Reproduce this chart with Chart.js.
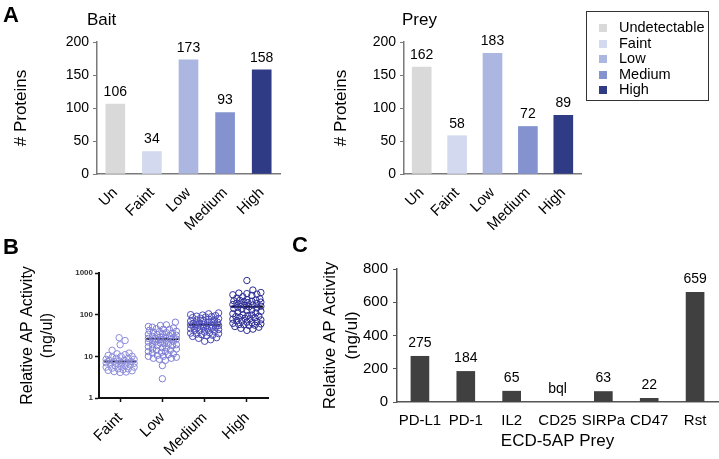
<!DOCTYPE html>
<html>
<head>
<meta charset="utf-8">
<script src="https://cdn.jsdelivr.net/npm/chart.js@4.4.1/dist/chart.umd.min.js"></script>
<style>
  body { margin: 0; width: 719px; height: 459px; position: relative; background: #fff; overflow: hidden;
         font-family: "Liberation Sans", Arial, sans-serif; }
  canvas { position: absolute; left: 0; top: 0; }
  .txt { position: absolute; white-space: nowrap; color: #000; line-height: 1; }
  .panel { font-weight: bold; font-size: 22px; }
  #legend { position: absolute; left: 586px; top: 11px; width: 121px; height: 88px; border: 1.5px solid #333;
            box-sizing: content-box; }
  .item { position: absolute; left: 12px; font-size: 14.5px; line-height: 1; }
  .item span { display: inline-block; width: 8px; height: 8px; margin-right: 12px; }
</style>
</head>
<body>
<canvas id="bait" width="719" height="459"></canvas>
<canvas id="prey" width="719" height="459"></canvas>
<canvas id="swarm" width="719" height="459"></canvas>
<canvas id="ecd" width="719" height="459"></canvas>

<div class="txt panel" style="left:3px;top:4px">A</div>
<div class="txt panel" style="left:3px;top:236px">B</div>
<div class="txt panel" style="left:292px;top:234px">C</div>
<div class="txt" style="left:87px;top:11px;font-size:17px">Bait</div>
<div class="txt" style="left:402px;top:11px;font-size:17px">Prey</div>
<div id="legend"></div>

<script>
// panel A
const levels = ["Un", "Faint", "Low", "Medium", "High"];
const legendNames = ["Undetectable", "Faint", "Low", "Medium", "High"];
const baitCounts = [106, 34, 173, 93, 158];
const preyCounts = [162, 58, 183, 72, 89];
const countTicks = [0, 50, 100, 150, 200];

// panel B (ng/ul)
const swarmGroups = ["Faint", "Low", "Medium", "High"];
const faintActivity = [28, 24, 19, 14, 12, 11.5, 11, 10.5, 10, 10, 9.5, 9, 9, 8.5, 8.5, 8, 8, 7.8, 7.5, 7.5,
  7.2, 7, 7, 6.8, 6.5, 6.5, 6.2, 6, 6, 5.8, 5.5, 5.5, 5.2, 5, 5, 4.8, 4.6, 4.5, 4.3, 4.2, 4.1];
const lowActivity = [66, 57, 55, 52, 50, 48, 46, 45, 44, 42, 40, 39, 38, 37, 36, 35, 34, 33, 32, 31, 30, 29, 29,
  28, 27, 27, 26, 26, 25, 25, 24, 24, 23, 22, 22, 21, 20, 20, 19, 19, 18, 18, 17, 16, 16, 15, 15, 14, 14, 13,
  13, 12.5, 12, 11.5, 11, 10.5, 10, 10, 9.5, 9, 9, 8.5, 8, 6, 2.9];
const mediumActivity = [110, 105, 100, 98, 95, 92, 90, 88, 85, 82, 80, 78, 76, 75, 73, 70, 68, 66, 65, 63, 62,
  60, 59, 58, 57, 56, 55, 54, 53, 52, 50, 49, 48, 47, 46, 45, 44, 42, 41, 40, 38, 37, 36, 35, 34, 33, 32, 31,
  30, 28, 27, 25, 23];
const highActivity = [660, 390, 340, 330, 320, 310, 300, 290, 270, 250, 240, 230, 225, 220, 215, 210, 205, 200,
  195, 190, 185, 180, 175, 170, 165, 160, 155, 150, 145, 140, 135, 130, 125, 120, 115, 110, 105, 100, 98, 95,
  92, 90, 87, 85, 82, 80, 78, 75, 72, 70, 68, 66, 64, 62, 60, 58, 57, 56, 55, 52, 50, 47, 45, 42];
const groupMedians = [7.5, 26, 57, 155];
const logTicks = [1, 10, 100, 1000];

// panel C
const preyNames = ["PD-L1", "PD-1", "IL2", "CD25", "SIRPa", "CD47", "Rst"];
const preyActivity = [275, 184, 65, null, 63, 22, 659];
const activityTicks = [0, 200, 400, 600, 800];

const levelColors = ["#d9d9d9", "#d3d9ee", "#abb7e0", "#8493cf", "#2f3c85"];
const swarmColors = ["#8c8cdc", "#7d7dd6", "#4a4ab8", "#2c2c96"];
const FONT = "'Liberation Sans', Arial, sans-serif";
const W = 719, H = 459;

Chart.defaults.font.family = FONT;
Chart.defaults.color = "#000";
Chart.defaults.animation = false;
Chart.defaults.responsive = false;
Chart.defaults.events = [];
Chart.defaults.plugins.legend.display = false;
Chart.defaults.plugins.tooltip.enabled = false;

// place the plot area at fixed pixels: left, top, right, bottom + axis box sizes
function frame(l, t, r, b, yW, xH) {
  return {
    padding: { left: l - yW, top: t, right: W - r, bottom: H - b - xH },
    fitY: s => { s.width = yW; s.paddingTop = 0; s.paddingBottom = 0; },
    fitX: s => { s.height = xH; s.paddingLeft = 0; s.paddingRight = 0; }
  };
}

const valueLabels = {
  id: "valueLabels",
  afterDatasetsDraw(chart, args, opts) {
    const ctx = chart.ctx;
    const data = chart.data.datasets[0].data;
    const xs = chart.scales.x, ys = chart.scales.y;
    ctx.save();
    ctx.font = opts.size + "px " + FONT;
    ctx.fillStyle = "#000";
    ctx.textAlign = "center";
    ctx.textBaseline = "bottom";
    data.forEach((v, i) => {
      const txt = v == null ? "bql" : String(v);
      ctx.fillText(txt, xs.getPixelForValue(i), ys.getPixelForValue(v == null ? 0 : v) - opts.gap);
    });
    ctx.restore();
  }
};

function countChart(id, counts, f) {
  return new Chart(document.getElementById(id), {
    type: "bar",
    data: {
      labels: levels,
      datasets: [{ data: counts, backgroundColor: levelColors, barThickness: 19 }]
    },
    options: {
      layout: { padding: f.padding },
      plugins: { valueLabels: { size: 14, gap: 5 } },
      scales: {
        x: {
          afterFit: f.fitX,
          grid: { display: false, drawTicks: false },
          border: { color: "#7a7a7a", width: 1.5 },
          ticks: { autoSkip: false, minRotation: 45, maxRotation: 45, padding: 10, font: { size: 15 } }
        },
        y: {
          min: 0, max: 200,
          afterFit: f.fitY,
          afterBuildTicks: s => { s.ticks = []; for (let v = 0; v <= 200; v += 25) s.ticks.push({ value: v }); },
          grid: { drawOnChartArea: false, tickLength: 4, color: "#7a7a7a" },
          border: { color: "#7a7a7a", width: 1.5 },
          ticks: { padding: 4, font: { size: 14 }, callback: v => countTicks.includes(v) ? v : "" },
          title: { display: true, text: "# Proteins", font: { size: 17 }, padding: { top: 11 } }
        }
      }
    },
    plugins: [valueLabels]
  });
}

countChart("bait", baitCounts, frame(97, 42, 280, 174, 97, 60));
countChart("prey", preyCounts, frame(404, 42, 581, 174, 84, 60));

// beeswarm layout of each group (pixel units, then back to category units)
function swarm(values, gi) {
  const pxDec = 41.7, pxUnit = 42.25, minD = 6, maxOff = 14;
  const placed = [];
  return values.slice().sort((a, b) => a - b).map(v => {
    const y = Math.log10(v) * pxDec;
    let best = 0, bestScore = -1;
    for (let k = 0; k <= 2 * maxOff; k++) {
      const off = k === 0 ? 0 : (k % 2 ? (k + 1) / 2 : -k / 2);
      let d = Infinity;
      placed.forEach(p => { d = Math.min(d, Math.hypot(p[0] - off, p[1] - y)); });
      if (d >= minD) { best = off; bestScore = d; break; }
      if (d > bestScore) { bestScore = d; best = off; }
    }
    placed.push([best, y]);
    return { x: gi + best / pxUnit, y: v };
  });
}

const swarmData = [faintActivity, lowActivity, mediumActivity, highActivity];
const fB = frame(99, 273, 268, 398, 94, 61);
const swarmSets = swarmData.map((vals, i) => ({
  type: "scatter", data: swarm(vals, i), pointStyle: "circle", pointRadius: 3.2,
  borderColor: swarmColors[i], backgroundColor: "rgba(0,0,0,0)", borderWidth: 1
}));
const medianSets = groupMedians.map((m, i) => ({
  type: "line", data: [{ x: i - 0.38, y: m }, { x: i + 0.38, y: m }],
  borderColor: "#111", borderWidth: 2, pointRadius: 0
}));

new Chart(document.getElementById("swarm"), {
  type: "scatter",
  data: { datasets: swarmSets.concat(medianSets) },
  options: {
    layout: { padding: fB.padding },
    scales: {
      x: {
        type: "linear", min: -0.5, max: 3.5,
        afterFit: fB.fitX,
        afterBuildTicks: s => { s.ticks = swarmGroups.map((g, i) => ({ value: i })); },
        grid: { drawOnChartArea: false, tickLength: 4, color: "#111", tickWidth: 1.5 },
        border: { color: "#111", width: 2 },
        ticks: { autoSkip: false, minRotation: 45, maxRotation: 45, padding: 7, font: { size: 15 },
                 callback: v => swarmGroups[v] }
      },
      y: {
        type: "logarithmic", min: 1, max: 1000,
        afterFit: fB.fitY,
        afterBuildTicks: s => { s.ticks = logTicks.map(v => ({ value: v })); },
        grid: { drawOnChartArea: false, tickLength: 4, color: "#111", tickWidth: 1.5 },
        border: { color: "#111", width: 2 },
        ticks: { padding: 2, color: "#333", font: { size: 8, weight: "bold" }, callback: v => String(v) },
        title: { display: true, text: ["Relative AP Activity", "(ng/ul)"], font: { size: 16, lineHeight: 1.25 },
                 padding: { top: 13 } }
      }
    }
  }
});

const fC = frame(397, 269, 718, 402, 97, 57);
new Chart(document.getElementById("ecd"), {
  type: "bar",
  data: {
    labels: preyNames,
    datasets: [{ data: preyActivity, backgroundColor: "#404040", barThickness: 18 }]
  },
  options: {
    layout: { padding: fC.padding },
    plugins: { valueLabels: { size: 14, gap: 6 } },
    scales: {
      x: {
        afterFit: fC.fitX,
        grid: { display: false, drawTicks: false },
        border: { color: "#555", width: 1.5 },
        ticks: { autoSkip: false, minRotation: 0, maxRotation: 0, padding: 10, font: { size: 15 } },
        title: { display: true, text: "ECD-5AP Prey", font: { size: 17 }, padding: { bottom: 7 } }
      },
      y: {
        min: 0, max: 800,
        afterFit: fC.fitY,
        afterBuildTicks: s => { s.ticks = []; for (let v = 0; v <= 800; v += 100) s.ticks.push({ value: v }); },
        grid: { drawOnChartArea: false, tickLength: 4, color: "#555" },
        border: { color: "#555", width: 1.5 },
        ticks: { padding: 5, font: { size: 15 }, callback: v => activityTicks.includes(v) ? v : "" },
        title: { display: true, text: ["Relative AP Activity", "(ng/ul)"], font: { size: 17, lineHeight: 1.3 },
                 padding: { top: 19 } }
      }
    }
  },
  plugins: [valueLabels]
});

// legend for panel A
const legend = document.getElementById("legend");
legendNames.forEach((name, i) => {
  const row = document.createElement("div");
  row.className = "item";
  row.style.top = (8 + i * 15.5) + "px";
  row.innerHTML = '<span style="background:' + levelColors[i] + '"></span>' + name;
  legend.appendChild(row);
});
</script>
</body>
</html>
